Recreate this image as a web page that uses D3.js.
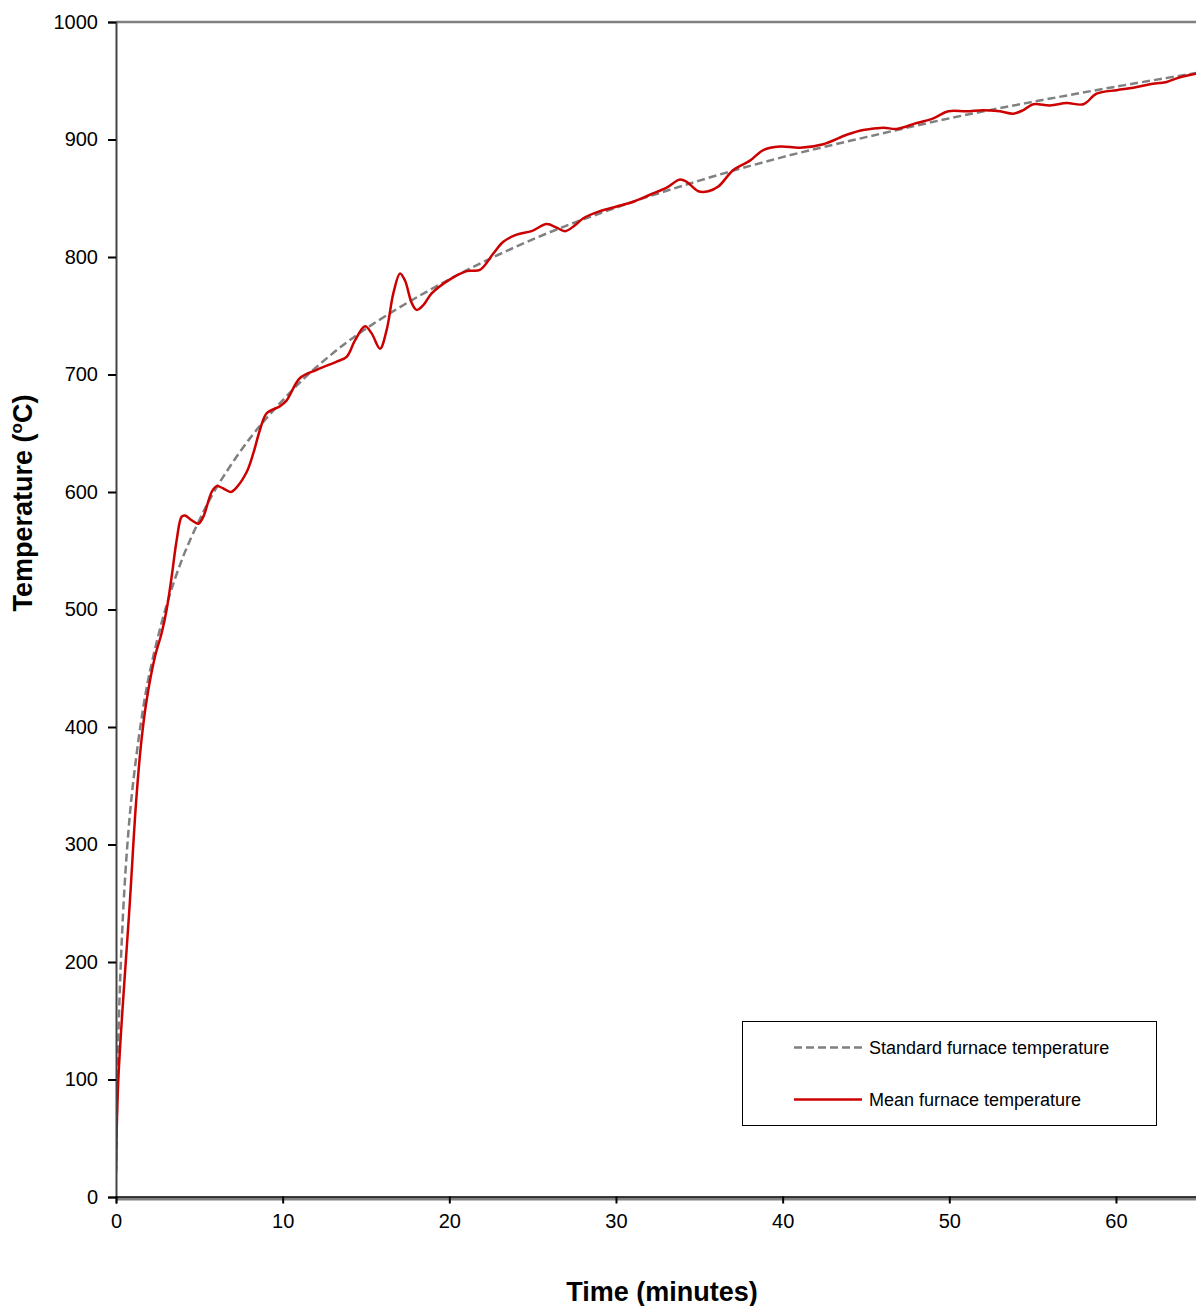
<!DOCTYPE html>
<html>
<head>
<meta charset="utf-8">
<script src="https://cdn.jsdelivr.net/npm/d3@7"></script>
<style>
  html, body { margin: 0; padding: 0; background: #fff; }
  svg { display: block; font-family: Arial, "Liberation Sans", sans-serif; }
</style>
</head>
<body>
<svg id="chart" width="1196" height="1306"></svg>
<script>
// ---- data ----
const xTicks = [0, 10, 20, 30, 40, 50, 60];
const yTicks = [0, 100, 200, 300, 400, 500, 600, 700, 800, 900, 1000];

const stdTime = [0, 0.1, 0.25, 0.5, 0.75, 1, 1.5, 2, 3, 4, 5, 6, 8, 10, 12, 15, 20, 25, 30, 35, 40, 45, 50, 55, 60, 65];
const stdTemp = [20, 108, 185, 261, 312, 349, 404, 445, 502, 544, 576, 603, 645, 678, 706, 739, 781, 815, 842, 865, 885, 902, 918, 932, 945, 957];

const meanTime = [0, 0.14, 0.84, 1.2, 1.5, 1.84, 2.34, 2.74, 3.04, 3.34, 3.64, 3.94, 4.14, 4.54, 4.94, 5.24, 5.74, 6.04, 6.44, 6.88, 7.24, 7.84, 8.24, 8.64, 9.04, 9.84, 10.24, 11.04, 12.04, 13.24, 13.84, 14.34, 14.94, 15.34, 15.84, 16.24, 16.64, 17.04, 17.34, 17.74, 18.04, 18.44, 18.94, 20.04, 21.04, 21.84, 22.64, 23.24, 24.04, 24.94, 25.84, 26.44, 26.94, 27.54, 28.04, 29.04, 30.04, 31.04, 32.04, 33.04, 33.84, 34.24, 34.94, 35.54, 36.14, 37.04, 38.04, 38.84, 39.84, 41.04, 42.44, 43.84, 44.84, 46.04, 46.84, 48.04, 49.04, 49.94, 51.04, 52.04, 53.04, 53.84, 54.44, 55.04, 56.04, 57.04, 58.04, 58.84, 60.04, 61.04, 62.04, 63.04, 63.84, 64.8];
const meanTemp = [23, 100, 253, 335, 385, 423, 460, 480, 500, 528, 559, 579, 580, 576, 573, 579, 600, 605, 603, 600, 604, 617, 633, 653, 667, 673, 678, 697, 704, 711, 715, 729, 741, 735, 722, 738, 769, 786, 780, 761, 755, 759, 769, 781, 788, 789, 803, 813, 819, 822, 828, 825, 822, 827, 833, 839, 843, 847, 853, 859, 866, 864, 856, 856, 860, 874, 882, 891, 894, 893, 896, 904, 908, 910, 909, 914, 918, 924, 924, 925, 924, 922, 925, 930, 929, 931, 930, 939, 942, 944, 947, 949, 953, 956];

const seriesNames = ["Standard furnace temperature", "Mean furnace temperature"];

// ---- layout ----
const svg = d3.select("#chart");
const pL = 116, pR = 1199.3, pT = 22, pB = 1197;

const x = d3.scaleLinear().domain([0, 65]).range([pL, pR]);
const y = d3.scaleLinear().domain([0, 1000]).range([pB, pT]);

// plot border (grey)
svg.append("line").attr("x1", pL).attr("x2", 1196).attr("y1", pT).attr("y2", pT)
  .attr("stroke", "#808080").attr("stroke-width", 2.5);
svg.append("line").attr("x1", pL).attr("x2", 1196).attr("y1", pB + 2).attr("y2", pB + 2)
  .attr("stroke", "#808080").attr("stroke-width", 3);

// clip
svg.append("clipPath").attr("id", "clip").append("rect")
  .attr("x", pL).attr("y", pT - 5).attr("width", 1196 - pL).attr("height", pB - pT + 5);

const g = svg.append("g").attr("clip-path", "url(#clip)");

const lineGen = d3.line().x(d => x(d[0])).y(d => y(d[1])).curve(d3.curveCatmullRom.alpha(0.5));

const stdData = stdTime.map((t, i) => [t, stdTemp[i]]);
const meanData = meanTime.map((t, i) => [t, meanTemp[i]]);

g.append("path").datum(stdData).attr("d", lineGen)
  .attr("fill", "none").attr("stroke", "#808080").attr("stroke-width", 2.5)
  .attr("stroke-dasharray", "8,4");

g.append("path").datum(meanData).attr("d", lineGen)
  .attr("fill", "none").attr("stroke", "#cc0000").attr("stroke-width", 2.5)
  .attr("stroke-linejoin", "round");

// axes
const yAxis = d3.axisLeft(y).tickValues(yTicks).tickSize(8).tickPadding(10).tickFormat(d3.format("d"));
const yg = svg.append("g").attr("transform", `translate(${pL},0)`).call(yAxis);
yg.select(".domain").attr("stroke", "#444").attr("stroke-width", 2);
yg.selectAll(".tick line").attr("stroke", "#000").attr("stroke-width", 2);
yg.selectAll(".tick text").attr("font-size", 20).attr("fill", "#000")
  .attr("font-family", "Arial, 'Liberation Sans', sans-serif");

const xAxis = d3.axisBottom(x).tickValues(xTicks).tickSize(7).tickPadding(10).tickFormat(d3.format("d"));
const xg = svg.append("g").attr("transform", `translate(0,${pB - 0.5})`).call(xAxis);
xg.select(".domain").attr("stroke", "#000").attr("stroke-width", 1.5);
xg.selectAll(".tick line").attr("stroke", "#000").attr("stroke-width", 2);
xg.selectAll(".tick text").attr("font-size", 20).attr("fill", "#000")
  .attr("font-family", "Arial, 'Liberation Sans', sans-serif");

// axis titles
svg.append("text").attr("x", 662).attr("y", 1301).attr("text-anchor", "middle")
  .attr("font-size", 27).attr("font-weight", "bold").attr("fill", "#000")
  .text("Time (minutes)");

const yt = svg.append("text").attr("transform", "translate(32,503) rotate(-90)")
  .attr("text-anchor", "middle").attr("font-size", 27).attr("font-weight", "bold").attr("fill", "#000");
yt.append("tspan").text("Temperature (");
yt.append("tspan").attr("font-size", 17).attr("dy", -10).text("o");
yt.append("tspan").attr("dy", 10).text("C)");

// legend
const lg = svg.append("g");
lg.append("rect").attr("x", 742.5).attr("y", 1021.5).attr("width", 414).attr("height", 104)
  .attr("fill", "#fff").attr("stroke", "#000").attr("stroke-width", 1);
const legendItems = [
  { name: seriesNames[0], color: "#808080", dash: "8,4", y: 1047.5 },
  { name: seriesNames[1], color: "#cc0000", dash: null, y: 1099.5 }
];
legendItems.forEach(it => {
  lg.append("line").attr("x1", 794).attr("x2", 862).attr("y1", it.y).attr("y2", it.y)
    .attr("stroke", it.color).attr("stroke-width", 2.5)
    .attr("stroke-dasharray", it.dash);
  lg.append("text").attr("x", 869).attr("y", it.y + 6.5).attr("font-size", 18).attr("fill", "#000")
    .text(it.name);
});
</script>
</body>
</html>
